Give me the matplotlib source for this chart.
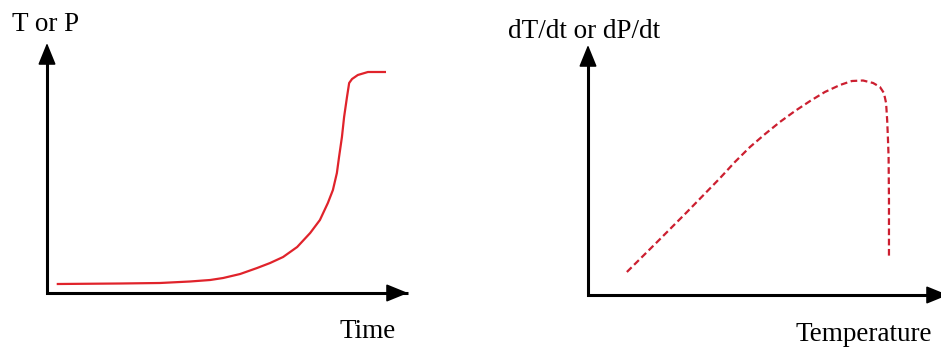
import numpy as np
import matplotlib.pyplot as plt

plt.rcParams['font.family'] = ['Liberation Serif', 'DejaVu Serif']

#%% Data (axis units 0-10)
# left panel: T or P vs Time
time = [0.30, 2.02, 3.13, 3.96, 4.52, 4.88, 5.35, 5.82, 6.18, 6.54, 6.93,
        7.29, 7.56, 7.78, 7.92, 8.03, 8.09, 8.17, 8.23, 8.31, 8.37, 8.45,
        8.61, 8.89, 9.36]
t_or_p = [0.36, 0.38, 0.40, 0.46, 0.52, 0.60, 0.76, 1.00, 1.20, 1.44, 1.84,
          2.40, 2.92, 3.60, 4.12, 4.80, 5.44, 6.24, 7.04, 7.84, 8.40, 8.56,
          8.72, 8.84, 8.84]

# right panel: rate vs temperature
temperature = [1.08, 1.92, 2.75, 3.67, 4.08, 4.50, 4.92, 5.33, 5.75, 6.17,
               6.58, 7.00, 7.33, 7.64, 7.92, 8.11, 8.22, 8.28, 8.31, 8.33,
               8.35, 8.36, 8.36]
rate = [0.92, 2.12, 3.32, 4.68, 5.32, 5.92, 6.44, 6.92, 7.36, 7.76,
        8.12, 8.40, 8.56, 8.58, 8.48, 8.32, 8.08, 7.68, 7.00, 6.32,
        5.52, 3.80, 1.52]

left_labels = ("Time", "T or P")
right_labels = ("Temperature", "dT/dt or dP/dt")

W, H = 941, 350
fig = plt.figure(figsize=(W/100, H/100), dpi=100)


def sketch_axes(rect):
    ax = fig.add_axes(rect)
    ax.set_xlim(0, 10)
    ax.set_ylim(0, 10)
    ax.axis('off')
    # L-shaped axes with arrow heads
    ax.plot([0, 0, 1], [0.96, 0, 0], color='k', lw=2.2, transform=ax.transAxes,
            clip_on=False, solid_joinstyle='miter', solid_capstyle='butt')
    head = dict(arrowstyle='-|>,head_length=1.35,head_width=0.55', color='k',
                lw=1.2, shrinkA=0, shrinkB=0)
    ax.annotate("", xy=(0, 1), xytext=(0, 0.9), xycoords='axes fraction', arrowprops=head)
    ax.annotate("", xy=(1, 0), xytext=(0.9, 0), xycoords='axes fraction', arrowprops=head)
    return ax


def px(x, y):
    return x/W, 1 - y/H


ax1 = sketch_axes([47/W, (H-293)/H, (408-47)/W, (293-43)/H])
ax1.plot(time, t_or_p, color='#e0232b', lw=1.6, solid_joinstyle='round')

ax2 = sketch_axes([588/W, (H-295)/H, (948-588)/W, (295-45)/H])
ax2.plot(temperature, rate, color='#cc1f30', lw=1.6, linestyle=(0, (3, 1.6)))

fs = 19.5
fig.text(*px(12, 31), left_labels[1], fontsize=fs, va='baseline')
fig.text(*px(340, 338), left_labels[0], fontsize=fs, va='baseline')
fig.text(*px(508, 38), right_labels[1], fontsize=fs, va='baseline')
fig.text(*px(795, 341), right_labels[0], fontsize=fs, va='baseline')

plt.savefig("out.png", dpi=100)
